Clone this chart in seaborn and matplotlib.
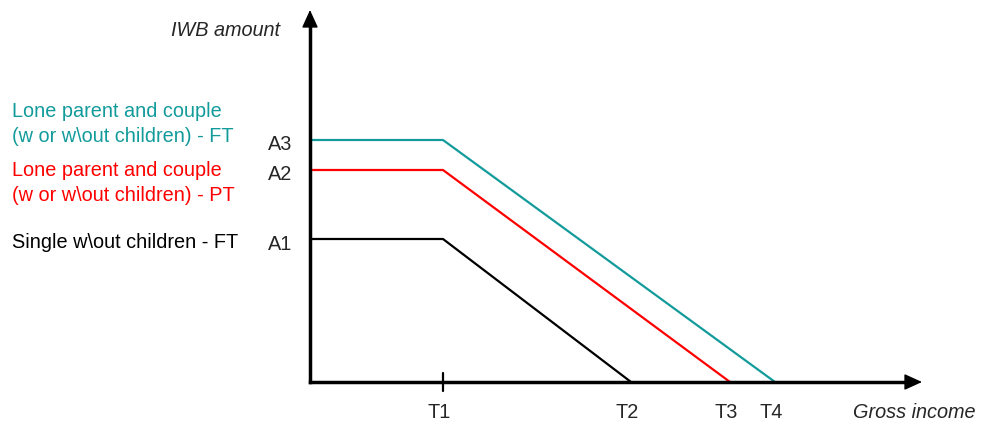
import numpy as np
import pandas as pd
import matplotlib
matplotlib.use("Agg")
import matplotlib.pyplot as plt
import seaborn as sns

# schematic values (arbitrary units)
thresholds = {"T1": 133, "T2": 321, "T3": 420, "T4": 465}
amounts = {"A1": 143, "A2": 212, "A3": 242}

series_names = [
    "Lone parent and couple\n(w or w\\out children) - FT",
    "Lone parent and couple\n(w or w\\out children) - PT",
    "Single w\\out children - FT",
]
series_amount = ["A3", "A2", "A1"]
series_end = ["T4", "T3", "T2"]
series_colors = ["#139b9b", "#ff0000", "#000000"]

rows = []
for name, a, t in zip(series_names, series_amount, series_end):
    rows.append({"series": name, "income": 0, "iwb": amounts[a]})
    rows.append({"series": name, "income": thresholds["T1"], "iwb": amounts[a]})
    rows.append({"series": name, "income": thresholds[t], "iwb": 0})
df = pd.DataFrame(rows)

sns.set_style("white")
plt.rcParams["font.family"] = ["Liberation Sans", "DejaVu Sans"]
fs = 14.3

fig = plt.figure(figsize=(9.81, 4.29), dpi=100)
ax = fig.add_axes([0, 0, 1, 1])
ax.set_xlim(-310, 671)
ax.set_ylim(-47, 382)
ax.axis("off")

sns.lineplot(data=df, x="income", y="iwb", hue="series", palette=series_colors,
             hue_order=series_names, linewidth=1.6, legend=False, ax=ax,
             estimator=None, sort=False)

# axes with arrows
ax.plot([0, 0], [0, 360], color="black", lw=2.5, solid_capstyle="projecting")
ax.plot([0, 600], [0, 0], color="black", lw=2.5, solid_capstyle="projecting")
head = dict(arrowstyle="-|>,head_length=1.1,head_width=0.5", color="black",
            lw=1, shrinkA=0, shrinkB=0)
ax.annotate("", xy=(612, 0), xytext=(596, 0), arrowprops=head)
ax.annotate("", xy=(0, 372), xytext=(0, 356), arrowprops=head)
ax.plot([thresholds["T1"]] * 2, [-9, 9], color="black", lw=1.6)

# threshold labels
for t, v in thresholds.items():
    ax.text(v - 4, -30, t, ha="center", va="center", fontsize=fs)
ax.text(543, -30, "Gross income", ha="left", va="center", fontsize=fs, style="italic")
ax.text(-30, 351, "IWB amount", ha="right", va="center", fontsize=fs, style="italic")

# amount labels
for a in series_amount:
    ax.text(-18, amounts[a] - 5, a, ha="right", va="center", fontsize=fs)

# series labels
label_y = [258, 199, 140]
for name, c, y in zip(series_names, series_colors, label_y):
    ax.text(-298, y, name, ha="left", va="center", fontsize=fs, color=c,
            linespacing=1.4)

fig.savefig("out.png", dpi=100)
